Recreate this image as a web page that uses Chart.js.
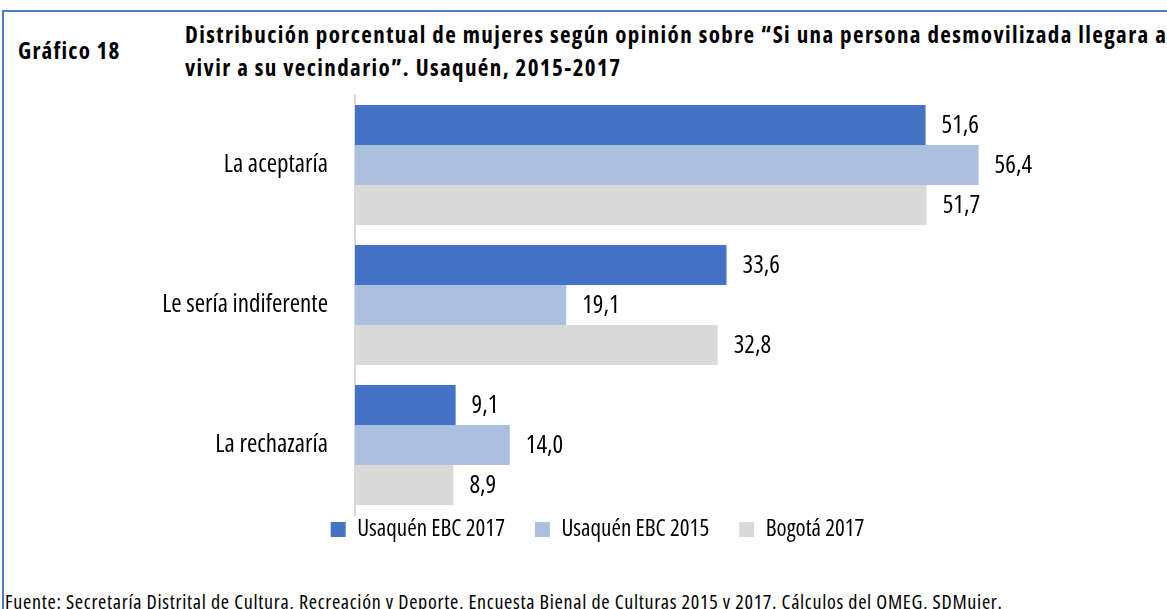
<!DOCTYPE html>
<html>
<head>
<meta charset="utf-8">
<script src="https://cdn.jsdelivr.net/npm/chart.js@4/dist/chart.umd.min.js"></script>
<style>
  body { margin: 0; background: #fff; }
  #page { position: relative; width: 1167px; height: 609px; overflow: hidden; font-family: 'Open Sans', sans-serif; font-stretch: condensed; color: #000; }
  #frame { position: absolute; left: 2px; top: 10px; width: 1300px; height: 700px; border-left: 2px solid #4f7ac4; border-top: 2px solid #4f7ac4; }
  #num { position: absolute; left: 18px; top: 34px; font-weight: bold; font-size: 23px; line-height: 32px; letter-spacing: 1.2px; }
  #title { position: absolute; left: 185px; top: 18px; font-weight: bold; font-size: 23px; line-height: 33px; white-space: nowrap; letter-spacing: 1.4px; }
  #source { position: absolute; left: 5px; top: 588px; font-size: 20px; line-height: 27px; white-space: nowrap; letter-spacing: 0.7px; }
  #wrap { position: absolute; left: 0; top: 85px; width: 1167px; height: 493px; }
</style>
</head>
<body>
<div id="page">
  <div id="frame"></div>
  <div id="num">Gráfico 18</div>
  <div id="title">Distribución porcentual de mujeres según opinión sobre “Si una persona desmovilizada llegara a<br>vivir a su vecindario”. Usaquén, 2015-2017</div>
  <div id="wrap"><canvas id="chart"></canvas></div>
  <div id="source">Fuente: Secretaría Distrital de Cultura, Recreación y Deporte, Encuesta Bienal de Culturas 2015 y 2017. Cálculos del OMEG, SDMujer.</div>
</div>
<script>
const categories = ['La aceptaría', 'Le sería indiferente', 'La rechazaría'];
const usaquen2017 = [51.6, 33.6, 9.1];
const usaquen2015 = [56.4, 19.1, 14.0];
const bogota2017 = [51.7, 32.8, 8.9];

const FAMILY = "'Open Sans', sans-serif";

// etiquetas de valor al final de cada barra
const valueLabels = {
    id: 'valueLabels',
    afterDatasetsDraw(chart) {
        const ctx = chart.ctx;
        ctx.save();
        ctx.font = 'condensed 25px ' + FAMILY;
        ctx.fillStyle = '#000';
        ctx.textAlign = 'left';
        ctx.textBaseline = 'middle';
        chart.data.datasets.forEach((ds, i) => {
            chart.getDatasetMeta(i).data.forEach((bar, j) => {
                ctx.fillText(ds.data[j].toFixed(1).replace('.', ','), bar.x + 16, bar.y + 1);
            });
        });
        ctx.restore();
    }
};

// subir la leyenda para que quede pegada al eje
const legendShift = {
    id: 'legendShift',
    afterLayout(chart) {
        chart.legend.top -= 27;
        chart.legend.bottom -= 27;
    }
};

new Chart(document.getElementById('chart'), {
    type: 'bar',
    data: {
        labels: categories,
        datasets: [
            { label: 'Usaquén EBC 2017', data: usaquen2017, backgroundColor: '#4472c4' },
            { label: 'Usaquén EBC 2015', data: usaquen2015, backgroundColor: '#abc0de' },
            { label: 'Bogotá 2017', data: bogota2017, backgroundColor: '#d9d9d9' }
        ]
    },
    options: {
        indexAxis: 'y',
        responsive: true,
        maintainAspectRatio: false,
        animation: false,
        categoryPercentage: 0.857,
        barPercentage: 1,
        layout: { padding: { top: 10, right: 38, left: 66, bottom: 0 } },
        scales: {
            x: { display: false, min: 0, max: 70 },
            y: {
                grid: { display: false },
                border: { display: true, color: '#d9d9d9', width: 2 },
                ticks: { color: '#000', padding: 19, font: { family: FAMILY, size: 25, weight: 'condensed' } },
                afterFit(scale) {
                    scale.width = 289;
                    scale.paddingTop = 0;
                    scale.paddingBottom = 0;
                }
            }
        },
        plugins: {
            tooltip: { enabled: false },
            legend: {
                position: 'bottom',
                labels: {
                    color: '#000',
                    boxWidth: 15,
                    boxHeight: 15,
                    padding: 30,
                    font: { family: FAMILY, size: 23, weight: 'condensed' }
                }
            }
        }
    },
    plugins: [valueLabels, legendShift]
});
</script>
</body>
</html>
